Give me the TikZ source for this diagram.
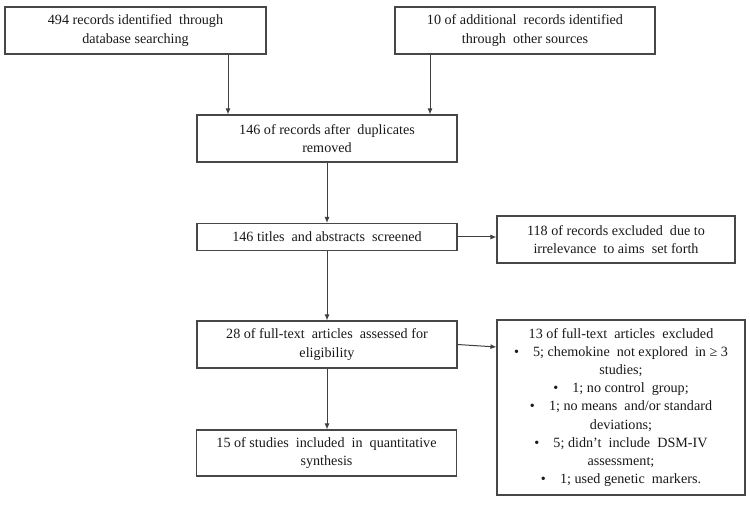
\documentclass[tikz,border=0pt]{standalone}
\usepackage{fontspec}
\setmainfont{Liberation Serif}
\usetikzlibrary{arrows.meta}
\begin{document}
\begin{tikzpicture}[x=1bp,y=-1bp,
  box/.style={draw=black!72,line width=1.1bp,inner sep=0pt,align=center,
    font=\fontsize{14.2}{18.3}\selectfont,text=black!90},
  arr/.style={draw=black!75,line width=1bp,-{Latex[length=6bp,width=5bp]}}]
\useasboundingbox[fill=white] (0,0) rectangle (750,505);
\node[box,minimum width=261bp,minimum height=47bp] (A) at (135.5,30.5)
  {494 records identified\ \ through\\database searching};
\node[box,minimum width=260bp,minimum height=47bp] (B) at (525,30.5)
  {10 of additional\ \ records identified\\through\ \ other sources};
\node[box,minimum width=260bp,minimum height=47bp] (C) at (327,138.5)
  {146 of records after\ \ duplicates\\removed};
\node[box,minimum width=260bp,minimum height=27bp] (D) at (327,237)
  {146 titles\ \ and abstracts\ \ screened};
\node[box,minimum width=238bp,minimum height=47bp] (E) at (616,239.5)
  {118 of records excluded\ \ due to\\irrelevance\ \ to aims\ \ set forth};
\node[box,minimum width=260bp,minimum height=47bp] (F) at (327,344.5)
  {28 of full-text\ \ articles\ \ assessed for\\eligibility};
\node[box,minimum width=248bp,minimum height=175bp] (G) at (621,407.5)
  {13 of full-text\ \ articles\ \ excluded\\
   \textbullet\hspace{1em}5; chemokine\ \ not explored\ \ in ≥ 3\\
   studies;\\
   \textbullet\hspace{1em}1; no control\ \ group;\\
   \textbullet\hspace{1em}1; no means\ \ and/or standard\\
   deviations;\\
   \textbullet\hspace{1em}5; didn't\ \ include\ \ DSM-IV\\
   assessment;\\
   \textbullet\hspace{1em}1; used genetic\ \ markers.};
\node[box,minimum width=260bp,minimum height=46bp] (H) at (326.5,453)
  {15 of studies\ \ included\ \ in\ \ quantitative\\synthesis};
\coordinate (xa) at (228,0);
\coordinate (xb) at (430,0);
\coordinate (xc) at (327,0);
\draw[arr] (A.south -| xa) -- (C.north -| xa);
\draw[arr] (B.south -| xb) -- (C.north -| xb);
\draw[arr] (C.south -| xc) -- (D.north -| xc);
\draw[arr] (D.east) -- (D.east -| E.west);
\draw[arr] (D.south -| xc) -- (F.north -| xc);
\draw[arr] (F.east) -- ([yshift=-2.5bp]F.east -| G.west);
\draw[arr] (F.south -| xc) -- (H.north -| xc);
\end{tikzpicture}
\end{document}
